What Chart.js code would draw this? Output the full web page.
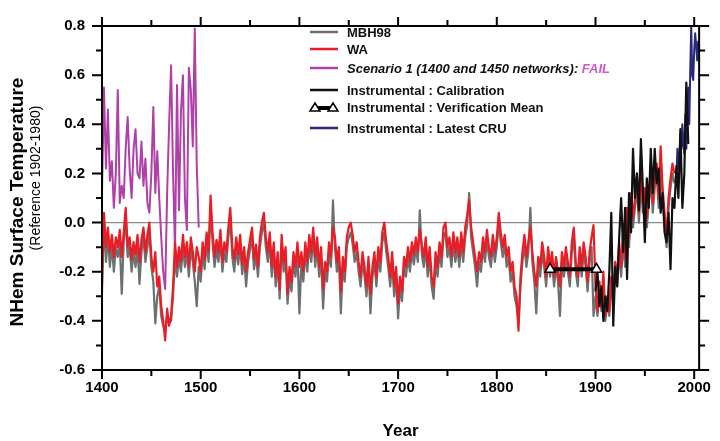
<!DOCTYPE html>
<html>
<head>
<meta charset="utf-8">
<script src="https://cdn.jsdelivr.net/npm/chart.js@4"></script>
<style>
  html, body { margin: 0; padding: 0; background: #fff; }
  canvas { display: block; }
</style>
</head>
<body>
<canvas id="tempChart" width="720" height="441"></canvas>
<script>
// Reconstructions, one value every 2 years from 1400 to 1980
const reconStart = 1400;
const reconStep = 2;
const wa = [
  -0.28, 0.04, -0.10, -0.02, -0.12, -0.05, -0.14, -0.06, -0.10, -0.03,
  -0.14, -0.04, 0.06, -0.10, -0.06, -0.15, -0.08, -0.13, -0.05, -0.16,
  -0.07, -0.02, -0.12, -0.05, 0.00, -0.14, -0.20, -0.12, -0.26, -0.22,
  -0.34, -0.40, -0.48, -0.35, -0.42, -0.38, -0.26, -0.08, -0.18, -0.10,
  -0.16, -0.05, -0.14, -0.08, -0.18, -0.06, -0.12, -0.20, -0.10, -0.14,
  -0.20, -0.08, -0.15, -0.04, -0.12, 0.11, -0.04, -0.14, -0.07, -0.12,
  -0.03, -0.16, -0.08, -0.12, -0.02, 0.06, -0.10, -0.15, -0.06, -0.13,
  -0.05, -0.17, -0.10, -0.20, -0.12, -0.07, -0.02, -0.15, -0.09, -0.18,
  -0.06, 0.00, 0.04, -0.06, -0.12, -0.04, -0.18, -0.08, -0.22, -0.12,
  -0.27, -0.05, -0.16, -0.10, -0.29, -0.18, -0.24, -0.12, -0.18, -0.08,
  -0.18, -0.12, -0.20, -0.08, -0.16, -0.05, -0.12, -0.02, -0.14, -0.06,
  -0.18, -0.10, -0.27, -0.16, -0.20, -0.08, -0.14, -0.02, -0.06, -0.16,
  -0.10, -0.28, -0.14, -0.20, -0.06, -0.02, 0.00, -0.05, -0.12, -0.08,
  -0.16, -0.22, -0.12, -0.18, -0.26, -0.14, -0.29, -0.18, -0.12, -0.22,
  -0.10, -0.16, -0.04, 0.00, -0.08, -0.14, -0.22, -0.12, -0.26, -0.18,
  -0.33, -0.22, -0.28, -0.14, -0.18, -0.10, -0.16, -0.08, -0.13, -0.06,
  -0.12, -0.03, -0.09, -0.14, -0.06, -0.18, -0.10, -0.22, -0.26, -0.12,
  -0.18, -0.08, -0.14, -0.02, 0.00, -0.10, -0.06, -0.14, -0.04, -0.12,
  -0.06, -0.14, -0.04, -0.12, -0.02, 0.03, 0.09, -0.02, -0.08, -0.14,
  -0.20, -0.12, -0.16, -0.06, -0.12, -0.03, -0.10, -0.14, -0.05, -0.12,
  -0.06, 0.04, -0.04, -0.10, -0.05, -0.14, -0.10, -0.20, -0.16, -0.26,
  -0.30, -0.44, -0.22, -0.12, -0.05, -0.14, -0.08, -0.02, -0.12, -0.20,
  -0.26, -0.14, -0.18, -0.08, -0.14, -0.22, -0.10, -0.18, -0.12, -0.22,
  -0.14, -0.20, -0.26, -0.12, -0.18, -0.10, -0.16, -0.22, -0.08, -0.02,
  -0.16, -0.22, -0.10, -0.18, -0.08, -0.14, -0.24, -0.12, -0.06, -0.01,
  -0.26, -0.36, -0.24, -0.34, -0.20, -0.38, -0.30, -0.36, -0.22, -0.30,
  -0.16, -0.22, -0.08, -0.18, -0.04, -0.14, 0.06, -0.06, 0.12, 0.02,
  0.10, 0.18, 0.04, 0.20, 0.08, 0.14, 0.02, 0.12, 0.22, 0.08,
  0.18, 0.24, 0.10, 0.31, 0.14, 0.04, -0.06, 0.10, 0.18, 0.24,
  0.20
];
const mbh98 = [
  -0.24, 0.00, -0.16, -0.06, -0.18, -0.09, -0.20, -0.10, -0.14, -0.08,
  -0.29, -0.08, 0.02, -0.14, -0.10, -0.20, -0.12, -0.18, -0.10, -0.25,
  -0.12, -0.06, -0.16, -0.10, -0.04, -0.18, -0.24, -0.41, -0.30, -0.26,
  -0.38, -0.42, -0.44, -0.38, -0.41, -0.40, -0.30, -0.14, -0.22, -0.14,
  -0.20, -0.10, -0.18, -0.12, -0.22, -0.10, -0.16, -0.24, -0.34, -0.18,
  -0.24, -0.12, -0.19, -0.08, -0.16, 0.07, -0.08, -0.18, -0.11, -0.16,
  -0.07, -0.20, -0.12, -0.16, -0.06, 0.02, -0.14, -0.20, -0.10, -0.17,
  -0.09, -0.21, -0.14, -0.26, -0.16, -0.11, -0.06, -0.19, -0.13, -0.22,
  -0.10, -0.04, 0.00, -0.10, -0.16, -0.08, -0.22, -0.12, -0.26, -0.16,
  -0.31, -0.09, -0.20, -0.14, -0.33, -0.22, -0.28, -0.16, -0.22, -0.12,
  -0.37, -0.16, -0.24, -0.12, -0.20, -0.09, -0.16, -0.06, -0.18, -0.10,
  -0.22, -0.14, -0.35, -0.20, -0.24, -0.12, -0.18, 0.09, -0.10, -0.20,
  -0.14, -0.37, -0.18, -0.24, -0.10, -0.06, -0.04, -0.09, -0.16, -0.12,
  -0.20, -0.26, -0.16, -0.22, -0.30, -0.18, -0.37, -0.22, -0.16, -0.26,
  -0.14, -0.20, -0.08, -0.04, -0.12, -0.18, -0.26, -0.16, -0.30, -0.22,
  -0.39, -0.26, -0.32, -0.18, -0.22, -0.14, -0.20, -0.12, -0.17, -0.10,
  -0.16, 0.05, -0.13, -0.18, -0.10, -0.22, -0.14, -0.26, -0.31, -0.16,
  -0.22, -0.12, -0.18, -0.06, -0.04, -0.14, -0.10, -0.18, -0.08, -0.16,
  -0.10, -0.18, -0.08, -0.16, -0.06, -0.01, 0.12, -0.06, -0.12, -0.18,
  -0.26, -0.16, -0.20, -0.10, -0.16, -0.07, -0.14, -0.18, -0.09, -0.16,
  -0.10, 0.00, -0.08, -0.14, -0.09, -0.18, -0.14, -0.24, -0.20, -0.30,
  -0.34, -0.40, -0.26, -0.16, -0.09, -0.18, -0.12, 0.06, -0.16, -0.24,
  -0.37, -0.18, -0.22, -0.12, -0.18, -0.26, -0.14, -0.22, -0.16, -0.26,
  -0.18, -0.24, -0.38, -0.16, -0.22, -0.14, -0.20, -0.26, -0.12, -0.06,
  -0.20, -0.26, -0.14, -0.22, -0.12, -0.18, -0.28, -0.16, -0.10, -0.38,
  -0.30, -0.38, -0.28, -0.36, -0.24, -0.40, -0.32, -0.38, -0.26, -0.32,
  -0.20, -0.26, -0.12, -0.22, -0.08, -0.18, 0.02, -0.10, 0.08, -0.02,
  0.06, 0.14, 0.00, 0.16, 0.04, 0.10, -0.02, 0.08, 0.18, 0.04,
  0.14, 0.20, 0.06, 0.26, 0.10, 0.00, -0.10, 0.06, 0.14, 0.20,
  0.16
];

// Scenario 1, every 2 years 1400-1498
const scenStart = 1400;
const scenStep = 2;
const scenario1 = [
  0.12, 0.55, 0.22, 0.46, 0.17, 0.25, 0.06, 0.20, 0.54, 0.08,
  0.15, 0.10, 0.30, 0.43, 0.22, 0.10, 0.30, 0.38, 0.20, 0.18,
  0.33, 0.15, 0.26, 0.08, 0.04, 0.20, 0.47, 0.12, 0.29, 0.10,
  -0.06, -0.20, -0.27, 0.12, 0.40, 0.64, 0.20, -0.11, 0.56, 0.05,
  0.45, 0.60, 0.10, -0.03, 0.63, 0.54, 0.31, 0.79, 0.23, -0.02
];

// Instrumental calibration, every 2 years 1900-1994
const calStart = 1900;
const calStep = 2;
const calibration = [
  -0.28, -0.20, -0.34, -0.26, -0.40, -0.30, -0.36, -0.20, 0.04, -0.42,
  -0.18, -0.26, -0.06, 0.10, -0.12, 0.06, -0.23, 0.12, -0.04, 0.30,
  0.10, 0.20, 0.05, 0.34, 0.14, -0.08, 0.18, 0.06, 0.30, 0.12,
  0.30, 0.16, 0.22, 0.04, 0.12, -0.04, -0.08, 0.04, -0.19, 0.10,
  0.06, 0.23, 0.10, 0.38, 0.06, 0.20, 0.57, 0.32
];

// Latest CRU, yearly 1982-2004
const cruStart = 1982;
const cruStep = 1;
const cru = [
  0.20, 0.30, 0.22, 0.26, 0.36, 0.30, 0.40, 0.32, 0.28, 0.44,
  0.30, 0.42, 0.55, 0.40, 0.62, 0.80, 0.60, 0.58, 0.70, 0.77,
  0.72, 0.66, 0.74
];

// Verification mean
const verifYears = [1854, 1901];
const verifMean = [-0.19, -0.19];

const toPoints = (start, step, values) => values.map((v, i) => ({ x: start + i * step, y: v }));

const FONT = '"Liberation Sans", Arial, sans-serif';
const C_RED = '#ec1c24';
const C_GRAY = '#6c7070';
const C_MAG = '#b03fa8';
const C_BLACK = '#111111';
const C_BLUE = '#28287c';

// Frame, outward ticks, zero line, titles and legend
const framePlugin = {
  id: 'frame',
  beforeDatasetsDraw(chart) {
    const { ctx, chartArea: a, scales: { y } } = chart;
    const y0 = y.getPixelForValue(0);
    ctx.save();
    ctx.strokeStyle = '#8c8c8c';
    ctx.lineWidth = 1.2;
    ctx.beginPath();
    ctx.moveTo(a.left, y0);
    ctx.lineTo(a.right, y0);
    ctx.stroke();
    ctx.restore();
  },
  afterDraw(chart) {
    const { ctx, chartArea: a, scales: { x, y } } = chart;
    ctx.save();
    ctx.strokeStyle = '#000';
    ctx.lineWidth = 2;
    ctx.strokeRect(a.left, a.top, a.right - a.left, a.bottom - a.top);

    ctx.beginPath();
    x.ticks.forEach(t => {
      const px = x.getPixelForValue(t.value);
      const len = t.value % 100 === 0 ? 9 : 6;
      ctx.moveTo(px, a.bottom); ctx.lineTo(px, a.bottom + len);
      ctx.moveTo(px, a.top); ctx.lineTo(px, a.top - len);
    });
    y.ticks.forEach(t => {
      const py = y.getPixelForValue(t.value);
      const len = Math.round(t.value * 10) % 2 === 0 ? 10 : 6;
      ctx.moveTo(a.left, py); ctx.lineTo(a.left - len, py);
      ctx.moveTo(a.right, py); ctx.lineTo(a.right + len, py);
    });
    ctx.stroke();

    // axis titles
    ctx.fillStyle = '#000';
    ctx.textAlign = 'center';
    ctx.textBaseline = 'middle';
    ctx.font = 'bold 17px ' + FONT;
    ctx.fillText('Year', (a.left + a.right) / 2, 431);
    ctx.save();
    ctx.translate(18, 202);
    ctx.rotate(-Math.PI / 2);
    ctx.font = 'bold 19px ' + FONT;
    ctx.fillText('NHem Surface Temperature', 0, 0);
    ctx.restore();
    ctx.save();
    ctx.translate(36, 178);
    ctx.rotate(-Math.PI / 2);
    ctx.font = '14px ' + FONT;
    ctx.fillText('(Reference 1902-1980)', 0, 0);
    ctx.restore();

    // legend
    const lx = 310, sw = 28, tx = 347;
    ctx.textAlign = 'left';
    const rows = [
      { label: 'MBH98', color: C_GRAY, y: 32 },
      { label: 'WA', color: C_RED, y: 49 },
      { label: 'Scenario 1 (1400 and 1450 networks): ', color: C_MAG, y: 68, italic: true, tail: 'FAIL' },
      { label: 'Instrumental : Calibration', color: C_BLACK, y: 90 },
      { label: 'Instrumental : Verification Mean', y: 107, verif: true },
      { label: 'Instrumental : Latest CRU', color: C_BLUE, y: 128 }
    ];
    rows.forEach(r => {
      if (r.verif) {
        ctx.lineWidth = 4;
        ctx.strokeStyle = '#000';
        ctx.beginPath();
        ctx.moveTo(lx + 8, r.y + 1);
        ctx.lineTo(lx + sw - 8, r.y + 1);
        ctx.stroke();
        ctx.lineWidth = 1.5;
        ctx.fillStyle = '#fff';
        [lx + 5, lx + sw - 5].forEach(cx => {
          ctx.beginPath();
          ctx.moveTo(cx - 5, r.y + 4);
          ctx.lineTo(cx, r.y - 4);
          ctx.lineTo(cx + 5, r.y + 4);
          ctx.closePath();
          ctx.fill();
          ctx.stroke();
        });
      } else {
        ctx.lineWidth = 2.5;
        ctx.strokeStyle = r.color;
        ctx.beginPath();
        ctx.moveTo(lx, r.y);
        ctx.lineTo(lx + sw, r.y);
        ctx.stroke();
      }
      ctx.font = (r.italic ? 'italic ' : '') + 'bold 13px ' + FONT;
      ctx.fillStyle = '#111';
      ctx.fillText(r.label, tx, r.y + 1);
      if (r.tail) {
        const w = ctx.measureText(r.label).width;
        ctx.fillStyle = '#d058d0';
        ctx.fillText(r.tail, tx + w, r.y + 1);
      }
    });
    ctx.restore();
  }
};

const tickFont = { family: FONT, size: 15, weight: 'bold' };

new Chart(document.getElementById('tempChart'), {
  type: 'line',
  data: {
    datasets: [
      {
        label: 'Instrumental : Verification Mean',
        data: verifYears.map((yr, i) => ({ x: yr, y: verifMean[i] })),
        borderColor: '#000',
        borderWidth: 4,
        pointStyle: 'triangle',
        pointRadius: 6,
        pointBackgroundColor: '#fff',
        pointBorderColor: '#000',
        pointBorderWidth: 1.5,
        order: 0
      },
      { label: 'Instrumental : Calibration', data: toPoints(calStart, calStep, calibration), borderColor: C_BLACK, borderWidth: 2.2, order: 1 },
      { label: 'Instrumental : Latest CRU', data: toPoints(cruStart, cruStep, cru), borderColor: C_BLUE, borderWidth: 2, order: 2 },
      { label: 'WA', data: toPoints(reconStart, reconStep, wa), borderColor: C_RED, borderWidth: 2.2, order: 3 },
      { label: 'Scenario 1 (1400 and 1450 networks): FAIL', data: toPoints(scenStart, scenStep, scenario1), borderColor: C_MAG, borderWidth: 2, order: 4 },
      { label: 'MBH98', data: toPoints(reconStart, reconStep, mbh98), borderColor: C_GRAY, borderWidth: 2.2, order: 5 }
    ]
  },
  options: {
    responsive: false,
    animation: false,
    devicePixelRatio: 1,
    layout: { padding: { top: 18, right: 14, left: 0, bottom: 0 } },
    plugins: { legend: { display: false }, tooltip: { enabled: false } },
    elements: {
      line: { tension: 0, borderJoinStyle: 'round' },
      point: { radius: 0 }
    },
    scales: {
      x: {
        type: 'linear',
        min: 1400,
        max: 2005,
        grid: { display: false, drawTicks: false },
        border: { display: false },
        ticks: {
          stepSize: 50,
          includeBounds: false,
          autoSkip: false,
          maxRotation: 0,
          padding: 9,
          color: '#000',
          font: tickFont,
          callback: v => (v % 100 === 0 ? String(v) : '')
        },
        afterFit: s => { s.height = 71; }
      },
      y: {
        min: -0.6,
        max: 0.8,
        grid: { display: false, drawTicks: false },
        border: { display: false },
        ticks: {
          stepSize: 0.1,
          autoSkip: false,
          padding: 17,
          color: '#000',
          font: tickFont,
          callback: v => (Math.round(v * 10) % 2 === 0 ? v.toFixed(1) : '')
        },
        afterFit: s => { s.width = 102; }
      }
    }
  },
  plugins: [framePlugin]
});
</script>
</body>
</html>
